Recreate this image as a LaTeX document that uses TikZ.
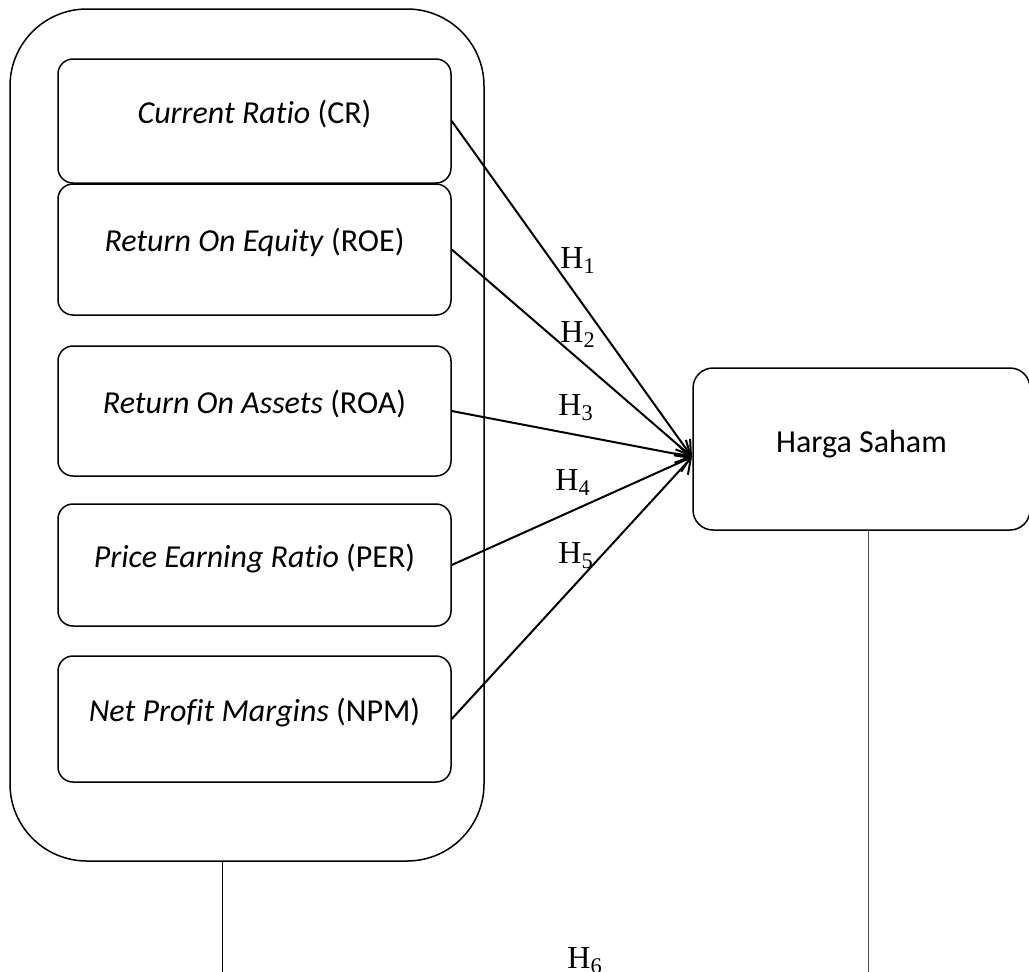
\documentclass[tikz,border=0pt]{standalone}
\usepackage{fontspec}
\setmainfont[Ligatures=NoCommon]{Carlito}
\newfontfamily\hypfont{Liberation Serif}
\usetikzlibrary{arrows.meta}

\tikzset{
    varbox/.style={draw, line width=0.75pt, rounded corners=7.5pt, minimum width=196.5pt, inner sep=0pt, font=\fontsize{16}{19}\selectfont},
    hyp/.style={anchor=base west, inner sep=0pt, font=\hypfont\fontsize{16}{19}\selectfont},
    link/.style={line width=1pt, -{Straight Barb[length=7pt,width=9pt]}},
}

\begin{document}
\begin{tikzpicture}[x=0.5pt, y=-0.5pt]
    \useasboundingbox (0, 0) rectangle (1029, 971);

    % Make the outer frame
    \node[draw, line width=0.75pt, rounded corners=38.5pt, minimum width=237pt, minimum height=426pt] (frame) at (247, 435) {};

    % Make the variable boxes
    \foreach \name/\y/\h/\txt in {cr/121/62/{\textit{Current Ratio} (CR)},
                                  roe/249.5/65.5/{\textit{Return On Equity} (ROE)},
                                  roa/411/65/{\textit{Return On Assets} (ROA)},
                                  per/565/61/{\textit{Price Earning Ratio} (PER)},
                                  npm/719/63/{\textit{Net Profit Margins} (NPM)}}{
        \node[varbox, minimum height=\h pt] (\name) at (254.5, \y) {\raisebox{9.5pt}{\txt}};
    }

    % Make the target box
    \node[varbox, rounded corners=10pt, minimum width=168.5pt, minimum height=81pt] (hs) at (861.5, 449) {\raisebox{7.5pt}{Harga Saham}};

    \coordinate (tip) at (692, 457);

    % Make the arrows
    \foreach \name in {cr, roe, roa, per, npm}{
        \draw[link] (\name.east) -- (tip);
    }

    % Make the hypothesis labels
    \foreach \i/\x/\y in {1/560/268, 2/560/342, 3/558/415, 4/555/490, 5/558/563, 6/567/968}{
        \node[hyp] (h\i) at (\x, \y) {H\textsubscript{\i}};
    }

    % Lines down to H6
    \coordinate (left6) at (222, 980);
    \coordinate (right6) at (868, 980);
    \draw[line width=0.5pt] (frame.south -| left6) -- (left6);
    \draw[line width=0.5pt, black!70] (hs.south -| right6) -- (right6);

\end{tikzpicture}
\end{document}
